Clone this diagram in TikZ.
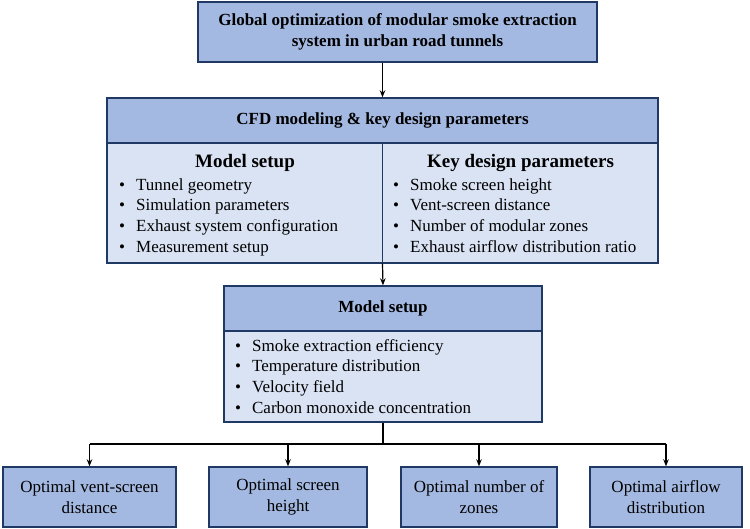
\documentclass[tikz,border=0pt]{standalone}
\usepackage{fontspec}
\setmainfont{Liberation Serif}
\usepackage{tikz}
\usetikzlibrary{arrows.meta,calc,positioning}
\definecolor{headblue}{RGB}{164,185,225}
\definecolor{bodyblue}{RGB}{218,227,243}
\definecolor{edgeblue}{RGB}{31,56,100}
\newcommand{\txtsize}{\fontsize{17}{20.7}\selectfont}
\newcommand{\subsize}{\fontsize{19}{23}\selectfont}

\begin{document}
\begin{tikzpicture}[x=1pt,y=-1pt,
  headbox/.style={draw=edgeblue,line width=1.4pt,fill=headblue,align=center,inner sep=0pt,font=\txtsize\bfseries},
  bodybox/.style={draw=edgeblue,line width=1.4pt,fill=bodyblue,inner sep=0pt},
  optbox/.style={draw=edgeblue,line width=1.4pt,fill=headblue,align=center,inner sep=0pt,font=\txtsize,minimum height=60pt},
  listtxt/.style={anchor=west,inner sep=0pt,font=\txtsize},
  flow/.style={line width=1.2pt,-{Stealth[length=7pt,width=5.5pt]}}]
 \useasboundingbox (0,0) rectangle (750,529);
 \node[headbox,minimum width=399pt,minimum height=60pt] (goal) at (397.5,32) {Global optimization of modular smoke extraction\\system in urban road tunnels};
 \node[headbox,minimum width=551pt,minimum height=45pt] (cfdhead) at (382.5,120.5) {CFD modeling \& key design parameters};
 \node[bodybox,minimum width=551pt,minimum height=120pt] (cfdbody) at (382.5,203) {};
 \draw[edgeblue,line width=1.4pt] (cfdhead.south) -- (cfdbody.south);
 \node[font=\subsize\bfseries,inner sep=0pt] (setuptitle) at (245,163) {Model setup};
 \node[font=\subsize\bfseries,inner sep=0pt] (paramtitle) at (520.5,163) {Key design parameters};
 \node[listtxt] (setuplist) at (119,217) {\begin{tabular}{@{}l@{\hspace{11pt}}l@{}}
  \textbullet & Tunnel geometry\\
  \textbullet & Simulation parameters\\
  \textbullet & Exhaust system configuration\\
  \textbullet & Measurement setup
 \end{tabular}};
 \node[listtxt] (paramlist) at (393,217) {\begin{tabular}{@{}l@{\hspace{11pt}}l@{}}
  \textbullet & Smoke screen height\\
  \textbullet & Vent-screen distance\\
  \textbullet & Number of modular zones\\
  \textbullet & Exhaust airflow distribution ratio
 \end{tabular}};
 \node[headbox,minimum width=318pt,minimum height=45pt] (evalhead) at (383,308.5) {Model setup};
 \node[bodybox,minimum width=318pt,minimum height=91pt] (evalbody) at (383,376.5) {};
 \node[listtxt] (evallist) at (235,378) {\begin{tabular}{@{}l@{\hspace{11pt}}l@{}}
  \textbullet & Smoke extraction efficiency\\
  \textbullet & Temperature distribution\\
  \textbullet & Velocity field\\
  \textbullet & Carbon monoxide concentration
 \end{tabular}};
 \node[optbox,minimum width=173pt] (opt1) at (89.5,497) {Optimal vent-screen\\distance};
 \node[optbox,minimum width=158pt] (opt2) at (288,497) {Optimal screen\\height};
 \node[optbox,minimum width=156pt] (opt3) at (479,497) {Optimal number of\\zones};
 \node[optbox,minimum width=152pt] (opt4) at (666,497) {Optimal airflow\\distribution};
 \draw[flow] (cfdhead.north |- goal.south) -- (cfdhead.north);
 \draw[flow] (cfdbody.south) -- (evalhead.north);
 \coordinate (split) at (383,444);
 \draw[line width=1.2pt] (evalbody.south) -- (split);
 \draw[line width=1.2pt] (opt1.north |- split) -- (opt4.north |- split);
 \foreach \o in {opt1,opt2,opt3,opt4}
  \draw[flow] (\o.north |- split) -- (\o.north);
\end{tikzpicture}
\end{document}
